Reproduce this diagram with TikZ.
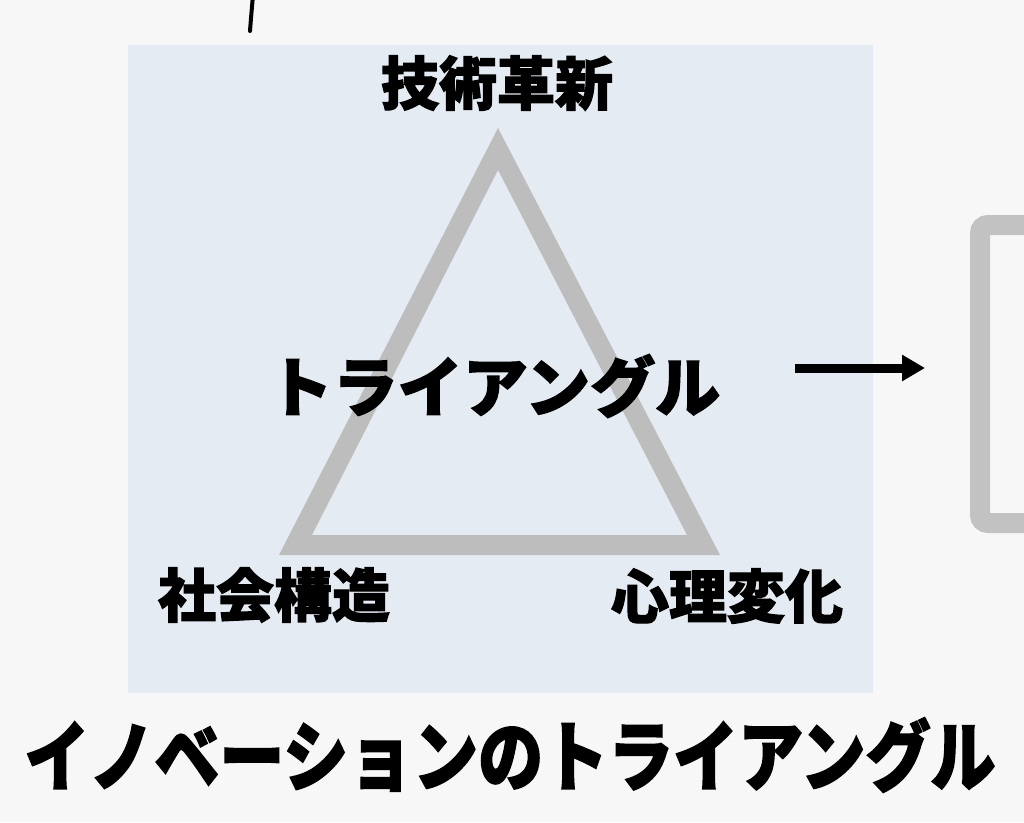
\documentclass[tikz,border=0pt]{standalone}
\usepackage{fontspec}
\setmainfont{Noto Sans CJK JP}[BoldFeatures={FakeBold=2}]
\usetikzlibrary{arrows.meta,calc}
\definecolor{bgc}{HTML}{F7F7F7}
\definecolor{panel}{HTML}{E5EBF3}
\definecolor{trig}{HTML}{BDBDBD}
\definecolor{boxg}{HTML}{C2C2C2}
\tikzset{
  lbl/.style={font=\bfseries\fontsize{58}{60}\selectfont, inner sep=0pt, text=black},
  midlbl/.style={font=\bfseries\fontsize{65}{67}\selectfont, inner sep=0pt, text=black},
  ttl/.style={font=\bfseries\fontsize{65}{67}\selectfont, inner sep=0pt, text=black, yscale=1.18, transform shape},
}
\begin{document}
\begin{tikzpicture}[x=1pt,y=-1pt]
\useasboundingbox (0,0) rectangle (1024,822);
\fill[bgc] (0,0) rectangle (1024,822);
% mark top-left
\draw[line width=4pt, line cap=round] (250,31) .. controls (251,18) .. (253,-5);
% panel
\fill[panel] (128,45) rectangle (873,693);
% triangle
\fill[trig, even odd rule] (498,128) -- (720,555) -- (279,555) -- cycle
  (498,170) -- (687,535) -- (312,535) -- cycle;
% right box
\draw[boxg, line width=20pt, rounded corners=8pt] (980,225) rectangle (1060,523);
% arrow
\coordinate (a1) at (795,368);
\coordinate (a2) at (925,368);
\draw[line width=9pt, -{Triangle[length=23pt,width=25pt]}] (a1) -- (a2);
% labels
\node[lbl] (top) at (497,83) {技術革新};
\node[midlbl] (mid) at (494,386) {トライアングル};
\node[lbl] (bl) at (274,595) {社会構造};
\node[lbl] (br) at (727,596) {心理変化};
% title
\node[ttl] (title) at (510,755) {イノベーションのトライアングル};
\end{tikzpicture}
\end{document}
